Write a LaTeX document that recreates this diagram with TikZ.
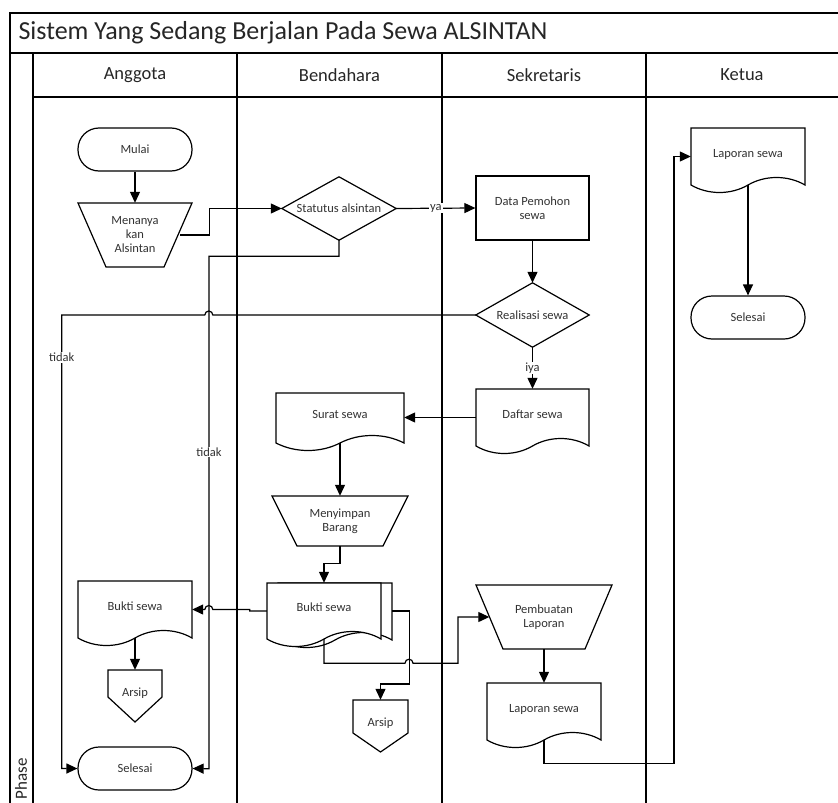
\documentclass[tikz,border=0pt]{standalone}
\usepackage{fontspec}
\setmainfont{Carlito}
\usetikzlibrary{arrows.meta,calc}
\tikzset{
  frameline/.style={line width=1.4pt,draw=black},
  outline/.style={line width=1.2pt,draw=black,fill=white},
  conn/.style={line width=1.2pt,draw=black},
  arr/.style={conn,-{Triangle[length=11pt,width=10pt]}},
  box/.style={draw=none,inner sep=0pt,align=center,font=\fontsize{12.5}{14}\selectfont,text=black!80},
  docbox/.style={box,text depth=7pt},
  term/.style={box,draw=black,line width=1.2pt,rounded corners=21pt,minimum width=114pt,minimum height=43pt},
  rectbox/.style={box,draw=black,line width=1.2pt},
  lbl/.style={fill=white,inner sep=1pt,font=\fontsize{12.5}{14}\selectfont,text=black!80},
  hdr/.style={font=\fontsize{18.5}{21}\selectfont,text=black!85},
}
\newcommand{\docoutline}[4]{\draw[outline] (#1,#2) -- (#3,#2) -- (#3,#4) .. controls ({#3-0.15*(#3-#1)},{#4-10}) and ({#3-0.35*(#3-#1)},{#4-10}) .. ({(#1+#3)/2},#4) .. controls ({#1+0.35*(#3-#1)},{#4+10}) and ({#1+0.15*(#3-#1)},{#4+10}) .. (#1,#4) -- cycle;}
\newcommand{\trapoutline}[5]{\draw[outline] (#1,#2) -- (#3,#2) -- ({#3-#5},#4) -- ({#1+#5},#4) -- cycle;}
\newcommand{\pentoutline}[5]{\draw[outline] (#1,#2) -- (#3,#2) -- (#3,#5) -- ({(#1+#3)/2},#4) -- (#1,#5) -- cycle;}
\begin{document}
\begin{tikzpicture}[x=1pt,y=-1pt]
\fill[white] (0,0) rectangle (838,803);
\useasboundingbox (0,0) rectangle (838,803);

% frame
\draw[frameline] (10,803) -- (10,13) -- (838,13);
\draw[frameline] (10,53) -- (838,53);
\draw[frameline] (33,53) -- (33,803);
\draw[frameline] (33,97) -- (838,97);
\draw[frameline] (237,53) -- (237,803);
\draw[frameline] (442,53) -- (442,803);
\draw[frameline] (646,53) -- (646,803);

\node[anchor=west,font=\fontsize{26}{30}\selectfont,text=black!85] (title) at (15,33) {Sistem Yang Sedang Berjalan Pada Sewa ALSINTAN};
\node[hdr] (hA) at (135,75) {Anggota};
\node[hdr] (hB) at (339.5,75) {Bendahara};
\node[hdr] (hS) at (544,75) {Sekretaris};
\node[hdr] (hK) at (742,75) {Ketua};
\node[font=\fontsize{17}{20}\selectfont,text=black!85,rotate=90,inner sep=1pt] (phase) at (21,779) {Phase};

% shapes
\node[term] (mulai) at (135,149.5) {Mulai};
\trapoutline{78}{203}{192}{267}{28}
\node[box,minimum width=114pt,minimum height=64pt] (men) at (135,235) {Menanya\\kan\\Alsintan};
\node[box,minimum width=114pt,minimum height=63pt] (stat) at (339,208.5) {Statutus alsintan};
\draw[line width=1.2pt] (stat.north) -- (stat.east) -- (stat.south) -- (stat.west) -- cycle;
\node[rectbox,minimum width=113pt,minimum height=64pt] (dp) at (532.5,208) {Data Pemohon\\sewa};
\node[box,minimum width=113pt,minimum height=64pt] (real) at (532.5,315) {Realisasi sewa};
\draw[line width=1.2pt] (real.north) -- (real.east) -- (real.south) -- (real.west) -- cycle;
\docoutline{476}{389}{589}{446}
\node[docbox,minimum width=113pt,minimum height=57pt] (daftar) at (532.5,417.5) {Daftar sewa};
\docoutline{276}{393}{404}{443}
\node[docbox,minimum width=128pt,minimum height=50pt] (surat) at (340,418) {Surat sewa};
\trapoutline{272}{496}{408}{546}{25}
\node[box,minimum width=136pt,minimum height=50pt] (simpan) at (340,521) {Menyimpan\\Barang};
\docoutline{278}{583}{392}{640}
\docoutline{267}{583}{381}{639}
\node[docbox,minimum width=114pt,minimum height=56pt] (buktiB) at (324,611) {Bukti sewa};
\docoutline{78}{581}{192}{638}
\node[docbox,minimum width=114pt,minimum height=57pt] (buktiA) at (135,609.5) {Bukti sewa};
\pentoutline{108}{670}{162}{722}{697}
\node[docbox,minimum width=54pt,minimum height=52pt] (arsA) at (135,696) {Arsip};
\pentoutline{353}{700}{408}{752}{733}
\node[docbox,minimum width=55pt,minimum height=52pt] (arsB) at (380.5,726) {Arsip};
\node[term] (selA) at (135,768.5) {Selesai};
\trapoutline{476}{585}{612}{649}{27}
\node[box,minimum width=136pt,minimum height=64pt] (buat) at (544,617) {Pembuatan\\Laporan};
\docoutline{487}{683}{601}{740}
\node[docbox,minimum width=114pt,minimum height=57pt] (sekLap) at (544,711.5) {Laporan sewa};
\docoutline{691}{128}{805}{185}
\node[docbox,minimum width=114pt,minimum height=57pt] (ketLap) at (748,156.5) {Laporan sewa};
\node[term] (selK) at (748,317.5) {Selesai};

% connectors
\draw[arr] (mulai.south) -- (men.north);
\draw[arr] ([xshift=-12pt]men.east) -- ++(29,0) |- (stat.west);
\draw[arr] (stat.east) -- node[lbl] (ya) {ya} (dp.west);
\draw[arr] (dp.south) -- (real.north);
\draw[arr] (real.south) -- node[lbl] (iya) {iya} (daftar.north);
\draw[arr] (daftar.west) -- (daftar.west -| surat.east);
\draw[arr] (surat.south) -- (simpan.north);
\draw[arr] (simpan.south) -- ++(0,17) -| (buktiB.north);
\draw[arr] (real.west) -- ++(-263,0) arc[start angle=0,end angle=180,radius=4pt] -- ++(-143,0) -- node[lbl,pos=0.093] (t1) {tidak} ++(0,453.5) -- (selA.west);
\draw[arr] (stat.south) -- ++(0,16) -- ++(-130,0) -- node[lbl,pos=0.382] (t2) {tidak} ++(0,512.5) -- (selA.east);
\draw[arr] (buktiB.west) -- ++(-17,0) -- ++(0,-1.5) -- ++(-37,0) arc[start angle=0,end angle=180,radius=4pt] -- (buktiA.east);
\draw[arr] ([xshift=11pt]buktiB.east) -- ++(17,0) -- ++(0,73) -| (arsB.north);
\draw[arr] (buktiB.south) -- ++(0,24) -- ++(81,0) arc[start angle=180,end angle=0,radius=4pt] -- ++(45,0) |- ([xshift=13.5pt]buat.west);
\draw[arr] (buat.south) -- (sekLap.north);
\draw[arr] (sekLap.south) -- ++(0,23) -- ++(130,0) |- (ketLap.west);
\draw[arr] (ketLap.south) -- (selK.north);
\draw[arr] (buktiA.south) -- (arsA.north);
\end{tikzpicture}
\end{document}
